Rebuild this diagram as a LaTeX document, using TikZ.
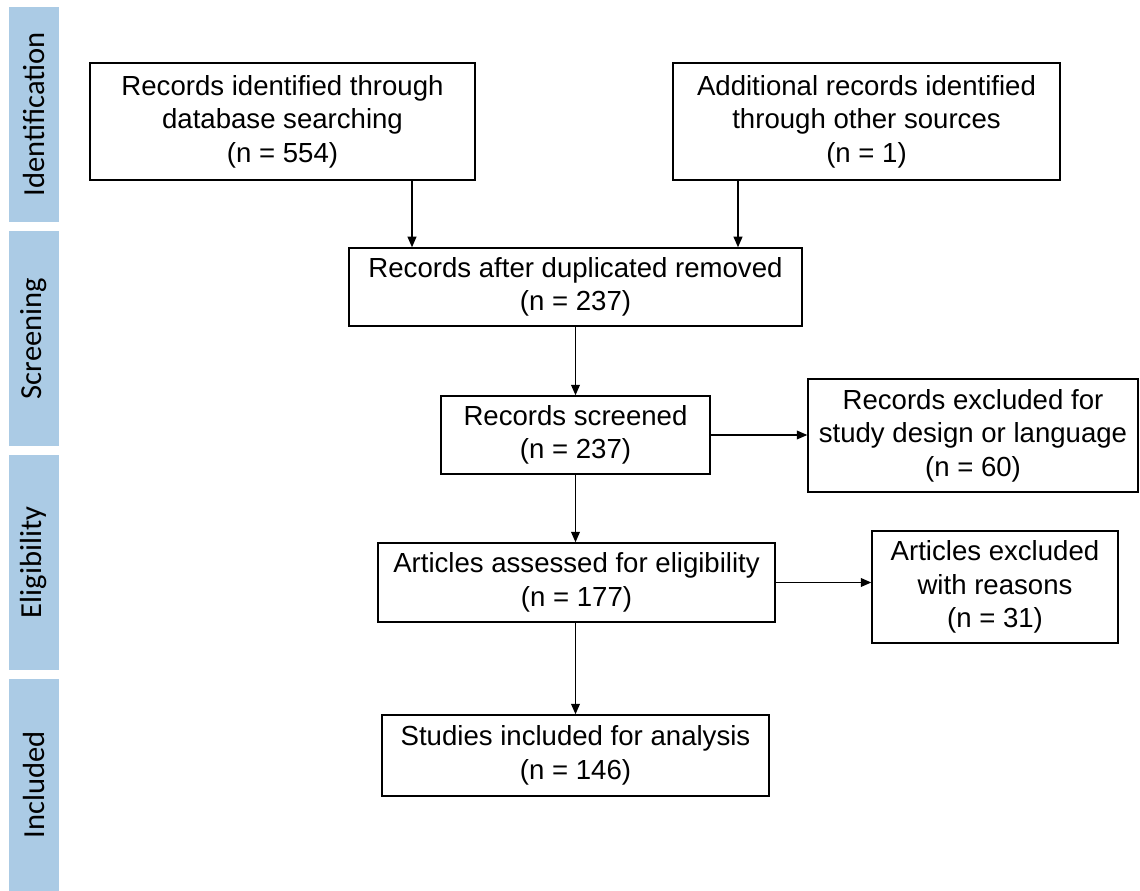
\documentclass[tikz,border=0pt]{standalone}
\usepackage{fontspec}
\setmainfont{Liberation Sans}
\newfontfamily\barfont{Carlito}
\usetikzlibrary{arrows.meta}
\definecolor{barblue}{RGB}{171,203,229}
\begin{document}
\begin{tikzpicture}[
    box/.style={draw,line width=0.8pt,align=center,inner sep=2pt,
        font=\fontsize{15.7}{19}\selectfont},
    stage/.style={fill=barblue,minimum width=1cm,inner sep=0pt},
    flow/.style={-{Triangle[length=6pt,width=5pt]},line width=0.8pt}]
\useasboundingbox (0,0) rectangle (22.8,-17.82);

% stage bars on the left
\foreach \y/\h/\name/\txt in {-2.29/4.3/s1/Identification,-6.77/4.3/s2/Screening,
    -11.25/4.3/s3/Eligibility,-15.70/4.24/s4/Included}{
    \node[stage,minimum height=\h cm] (\name) at (0.68,\y) {};
    \node[rotate=90,font=\barfont\fontsize{17.4}{19}\selectfont] at (\name) {\txt};
}

% boxes
\node[box,minimum width=7.7cm,minimum height=2.34cm] (A) at (5.65,-2.43)
    {Records identified through\\database searching\\(n = 554)};
\node[box,minimum width=7.74cm,minimum height=2.34cm] (B) at (17.33,-2.43)
    {Additional records identified\\through other sources\\(n = 1)};
\node[box,minimum width=9.06cm,minimum height=1.56cm] (C) at (11.51,-5.74)
    {Records after duplicated removed\\(n = 237)};
\node[box,minimum width=5.38cm,minimum height=1.56cm] (D) at (11.51,-8.70)
    {Records screened\\(n = 237)};
\node[box,minimum width=6.6cm,minimum height=2.26cm] (E) at (19.46,-8.71)
    {Records excluded for\\study design or language\\(n = 60)};
\node[box,minimum width=7.94cm,minimum height=1.58cm] (F) at (11.53,-11.65)
    {Articles assessed for eligibility\\(n = 177)};
\node[box,minimum width=4.92cm,minimum height=2.24cm] (G) at (19.90,-11.74)
    {Articles excluded\\with reasons\\(n = 31)};
\node[box,minimum width=7.74cm,minimum height=1.62cm] (H) at (11.51,-15.11)
    {Studies included for analysis\\(n = 146)};

% arrows
\coordinate (ac) at (8.24,0);
\coordinate (bc) at (14.76,0);
\draw[flow] (A.south -| ac) -- (C.north -| ac);
\draw[flow] (B.south -| bc) -- (C.north -| bc);
\draw[flow] (C) -- (D);
\draw[flow] (D) -- (E.west |- D);
\draw[flow] (D) -- (F.north -| D);
\draw[flow] (F) -- (G.west |- F);
\draw[flow] (F.south -| H) -- (H);
\end{tikzpicture}
\end{document}
